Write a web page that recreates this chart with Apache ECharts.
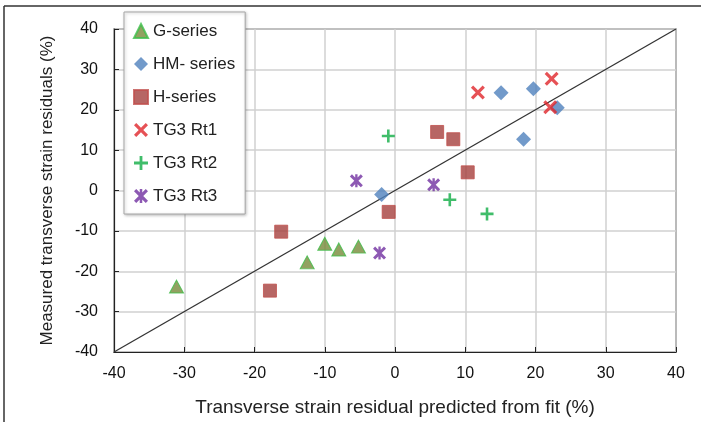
<!DOCTYPE html>
<html>
<head>
<meta charset="utf-8">
<script src="https://cdn.jsdelivr.net/npm/echarts@6/dist/echarts.min.js"></script>
<style>
  html, body { margin: 0; padding: 0; background: #fff; }
  #chart { width: 701px; height: 422px; }
</style>
</head>
<body>
<div id="chart"></div>
<script>
// 每个系列 [预测残差, 实测残差] (%)
var gSeries = [[-31.1, -23.8], [-12.5, -17.8], [-10, -13.2], [-8, -14.6], [-5.2, -13.9]];
var hmSeries = [[-1.9, -1.0], [15.1, 24.2], [19.7, 25.2], [23.1, 20.5], [18.3, 12.7]];
var hSeries = [[-16.2, -10.2], [-17.8, -24.8], [-0.9, -5.3], [6.0, 14.5], [8.3, 12.7], [10.35, 4.5]];
var rt1Series = [[11.8, 24.3], [22.3, 27.7], [22.1, 20.6]];
var rt2Series = [[-0.95, 13.5], [7.8, -2.3], [13.1, -5.8]];
var rt3Series = [[-5.5, 2.4], [5.5, 1.4], [-2.2, -15.5]];
var fitLine = [[-40, -40], [40, 40]];  // 1:1 线

var axisMin = -40, axisMax = 40, axisStep = 10;

// 标记形状
var crossPath = 'path://M0,1.6 L1.6,0 L5,3.4 L8.4,0 L10,1.6 L6.6,5 L10,8.4 L8.4,10 L5,6.6 L1.6,10 L0,8.4 L3.4,5 Z';
var plusPath = 'path://M4,0 H6 V4 H10 V6 H6 V10 H4 V6 H0 V4 H4 Z';
var starPath = 'path://M0,1.6 L1.6,0 L5,3.4 L8.4,0 L10,1.6 L6.6,5 L10,8.4 L8.4,10 L5,6.6 L1.6,10 L0,8.4 L3.4,5 Z M4.1,0 H5.9 V10 H4.1 Z';

var chart = echarts.init(document.getElementById('chart'));
var font = 'Liberation Sans, Arial, sans-serif';

var option = {
    animation: false,
    backgroundColor: '#fff',
    textStyle: { fontFamily: font },
    graphic: [
        { type: 'line', shape: { x1: 4, y1: 6, x2: 701, y2: 6 }, style: { stroke: '#333', lineWidth: 1.5 } },
        { type: 'line', shape: { x1: 4, y1: 6, x2: 4, y2: 422 }, style: { stroke: '#333', lineWidth: 1.5 } }
    ],
    grid: {
        left: 114, right: 25, top: 29, bottom: 68,
        show: true, borderColor: '#222', borderWidth: 1.2
    },
    legend: {
        orient: 'vertical',
        left: 124, top: 12,
        padding: [10, 10, 9, 9],
        itemWidth: 14, itemHeight: 14, itemGap: 15,
        backgroundColor: '#fff',
        borderColor: '#a6a6a6', borderWidth: 1,
        shadowColor: 'rgba(0,0,0,0.25)', shadowBlur: 3, shadowOffsetX: 1, shadowOffsetY: 1,
        textStyle: { fontSize: 17, color: '#222', fontFamily: font, lineHeight: 18 },
        data: ['G-series', 'HM- series', 'H-series', 'TG3 Rt1', 'TG3 Rt2', 'TG3 Rt3']
    },
    xAxis: {
        type: 'value', min: axisMin, max: axisMax, interval: axisStep,
        name: 'Transverse strain residual predicted from fit (%)',
        nameLocation: 'middle', nameGap: 46,
        nameTextStyle: { fontSize: 19, color: '#222' },
        axisLine: { onZero: false, lineStyle: { color: '#222', width: 1.2 } },
        axisTick: { show: true, inside: true, length: 5, lineStyle: { color: '#222' } },
        axisLabel: { fontSize: 16, color: '#111', margin: 14 },
        splitLine: { lineStyle: { color: '#d0d0d0', width: 1.5 } }
    },
    yAxis: {
        type: 'value', min: axisMin, max: axisMax, interval: axisStep,
        name: 'Measured transverse strain residuals (%)',
        nameLocation: 'middle', nameGap: 58, nameRotate: 90,
        nameTextStyle: { fontSize: 17, color: '#222' },
        axisLine: { show: true, onZero: false, lineStyle: { color: '#222', width: 1.2 } },
        axisTick: { show: true, inside: true, length: 5, lineStyle: { color: '#222' } },
        axisLabel: { fontSize: 16, color: '#111', margin: 16 },
        splitLine: { lineStyle: { color: '#d0d0d0', width: 1.5 } }
    },
    series: [
        {
            name: '1:1', type: 'line', data: fitLine, symbol: 'none', silent: true,
            lineStyle: { color: '#333', width: 1.3 }, z: 1
        },
        {
            name: 'G-series', type: 'scatter', data: gSeries, symbol: 'triangle', symbolSize: [14, 13],
            itemStyle: { color: '#77893a', borderColor: '#3cbf4a', borderWidth: 1 }
        },
        {
            name: 'HM- series', type: 'scatter', data: hmSeries, symbol: 'diamond', symbolSize: 15,
            itemStyle: { color: '#4f81bd' }
        },
        {
            name: 'H-series', type: 'scatter', data: hSeries, symbol: 'rect', symbolSize: 13,
            itemStyle: { color: '#a5403d', borderColor: '#c0504d', borderWidth: 1 }
        },
        {
            name: 'TG3 Rt1', type: 'scatter', data: rt1Series, symbol: crossPath, symbolSize: 14,
            itemStyle: { color: '#e0262a' }
        },
        {
            name: 'TG3 Rt2', type: 'scatter', data: rt2Series, symbol: plusPath, symbolSize: 13,
            itemStyle: { color: '#10ad45' }
        },
        {
            name: 'TG3 Rt3', type: 'scatter', data: rt3Series, symbol: starPath, symbolSize: 13,
            itemStyle: { color: '#7030a0' }
        }
    ]
};
chart.setOption(option);
</script>
</body>
</html>
